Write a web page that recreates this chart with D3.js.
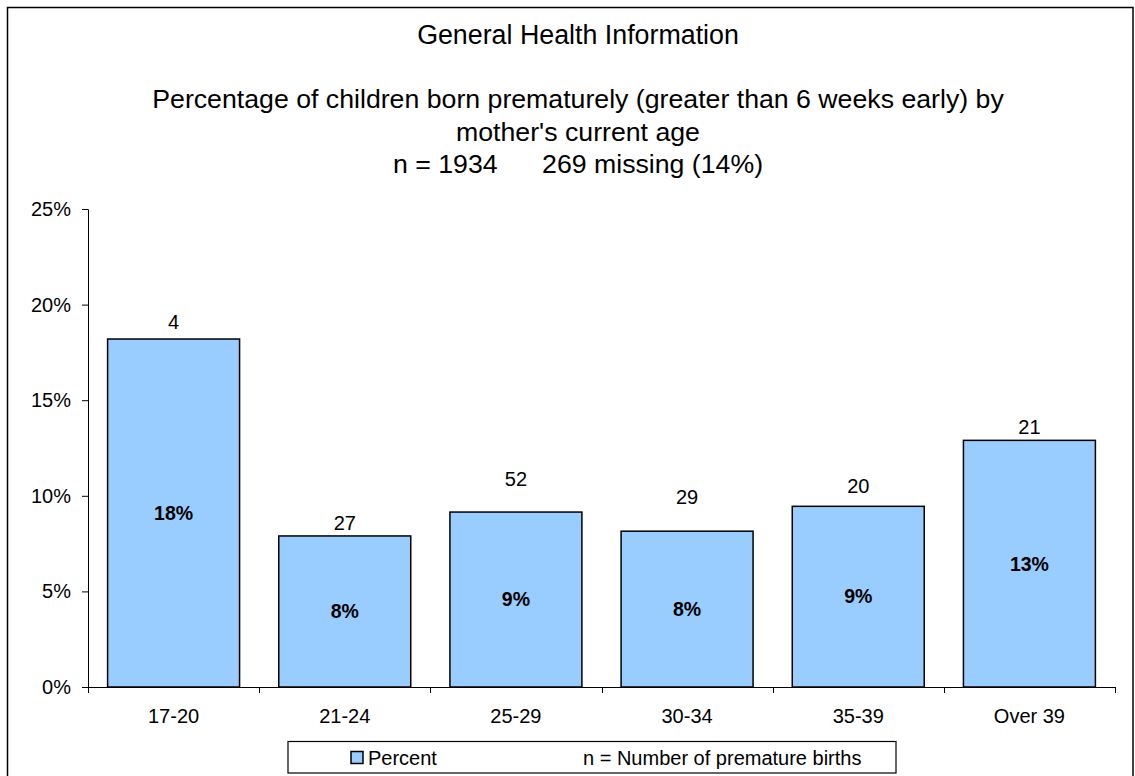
<!DOCTYPE html>
<html>
<head>
<meta charset="utf-8">
<script src="https://cdn.jsdelivr.net/npm/d3@7"></script>
<style>
  html, body { margin: 0; padding: 0; background: #fff; }
  svg { display: block; font-family: "Liberation Sans", Arial, sans-serif; }
</style>
</head>
<body>
<svg id="chart" width="1135" height="776"></svg>
<script>
// ---- data ----
const categories = ["17-20", "21-24", "25-29", "30-34", "35-39", "Over 39"];
const percentValues = [18.2, 7.9, 9.15, 8.15, 9.45, 12.9];
const percentLabels = ["18%", "8%", "9%", "8%", "9%", "13%"];
const nCounts = [4, 27, 52, 29, 20, 21];
const nLabelLevel = [19.1, 8.6, 10.9, 9.95, 10.5, 13.6]; // hidden series carrying the n labels
const yTicks = [0, 5, 10, 15, 20, 25];
const titleText = "General Health Information";
const subtitleLines = [
  "Percentage of children born prematurely (greater than 6 weeks early) by",
  "mother's current age",
  "n = 1934      269 missing (14%)"
];
const legendSeries = "Percent";
const legendNote = "n = Number of premature births";

// ---- layout ----
const svg = d3.select("#chart");
const plot = { left: 88, right: 1115, top: 209, bottom: 687 };
const barFill = "#99CCFF";

// outer border
svg.append("rect")
  .attr("x", 7.5).attr("y", 7.5)
  .attr("width", 1133 - 7.5).attr("height", 800)
  .attr("fill", "none").attr("stroke", "#000").attr("stroke-width", 1.5);

// titles
const cx = 578;
svg.append("text").attr("x", cx).attr("y", 44)
  .attr("text-anchor", "middle").attr("font-size", 26.8).attr("fill", "#000")
  .text(titleText);
const subBase = [108, 140.5, 173];
subtitleLines.forEach((t, i) => {
  svg.append("text").attr("x", cx).attr("y", subBase[i])
    .attr("text-anchor", "middle").attr("font-size", 26.7).attr("fill", "#000")
    .style("white-space", "pre")
    .text(t);
});

// scales
const x = d3.scaleBand().domain(categories)
  .range([plot.left, plot.right]).paddingInner(0.229).paddingOuter(0.1145);
const y = d3.scaleLinear().domain([0, 25]).range([plot.bottom, plot.top]);

// bars
const data = categories.map((c, i) => ({ c, v: percentValues[i], lab: percentLabels[i], n: nCounts[i], lv: nLabelLevel[i] }));
svg.append("g").selectAll("rect").data(data).join("rect")
  .attr("x", d => x(d.c)).attr("y", d => y(d.v))
  .attr("width", x.bandwidth()).attr("height", d => y(0) - y(d.v))
  .attr("fill", barFill).attr("stroke", "#000").attr("stroke-width", 1.5);

// y axis
const yAxis = svg.append("g").attr("transform", `translate(${plot.left},0)`)
  .call(d3.axisLeft(y).tickValues(yTicks).tickFormat(d => d + "%").tickSizeOuter(0).tickSize(6).tickPadding(11));
yAxis.selectAll("text").attr("font-size", 20).attr("font-family", "Liberation Sans, Arial, sans-serif").attr("fill", "#000");
yAxis.selectAll("line, path").attr("stroke", "#000");

// x axis: line with ticks at band boundaries
const xg = svg.append("g");
xg.append("line").attr("x1", plot.left).attr("x2", plot.right)
  .attr("y1", plot.bottom + 0.5).attr("y2", plot.bottom + 0.5).attr("stroke", "#000");
const bounds = categories.map(c => x(c) - x.step() * x.paddingInner() / 2);
bounds.push(plot.right);
xg.selectAll("line.tick").data(bounds).join("line").attr("class", "tick")
  .attr("x1", d => Math.round(d) + 0.5).attr("x2", d => Math.round(d) + 0.5)
  .attr("y1", plot.bottom).attr("y2", plot.bottom + 6).attr("stroke", "#000");
xg.selectAll("text").data(categories).join("text")
  .attr("x", d => x(d) + x.bandwidth() / 2).attr("y", 723)
  .attr("text-anchor", "middle").attr("font-size", 20).attr("fill", "#000")
  .text(d => d);

// value labels in bars
svg.append("g").selectAll("text").data(data).join("text")
  .attr("x", d => x(d.c) + x.bandwidth() / 2)
  .attr("y", d => (y(d.v) + y(0)) / 2)
  .attr("dy", "0.35em")
  .attr("text-anchor", "middle").attr("font-size", 19.5).attr("font-weight", "bold").attr("fill", "#000")
  .text(d => d.lab);

// n labels
svg.append("g").selectAll("text").data(data).join("text")
  .attr("x", d => x(d.c) + x.bandwidth() / 2)
  .attr("y", d => y(d.lv))
  .attr("dy", "0.35em")
  .attr("text-anchor", "middle").attr("font-size", 20).attr("fill", "#000")
  .text(d => d.n);

// legend
const lg = svg.append("g");
lg.append("rect").attr("x", 288).attr("y", 741.5).attr("width", 608).attr("height", 31.5)
  .attr("fill", "#fff").attr("stroke", "#000").attr("stroke-width", 1.2);
lg.append("rect").attr("x", 351).attr("y", 751.5).attr("width", 12).attr("height", 12)
  .attr("fill", barFill).attr("stroke", "#000").attr("stroke-width", 1.5);
lg.append("text").attr("x", 368).attr("y", 764.5).attr("font-size", 20).attr("fill", "#000").text(legendSeries);
lg.append("text").attr("x", 583).attr("y", 764.5).attr("font-size", 20).attr("fill", "#000").text(legendNote);
</script>
</body>
</html>
